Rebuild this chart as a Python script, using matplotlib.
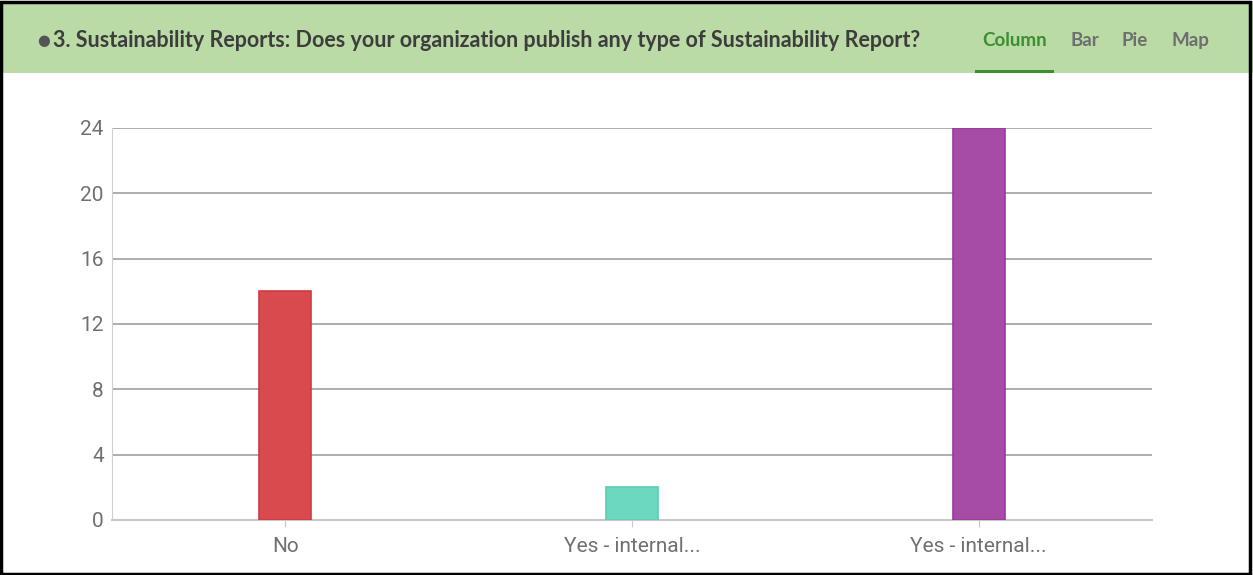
import matplotlib

matplotlib.use("Agg")
import matplotlib.pyplot as plt
from matplotlib.patches import Rectangle

categories = ["No", "Yes - internal...", "Yes - internal..."]
counts = [14, 2, 24]
bar_colors = ["#d94a4e", "#6cd8bf", "#a64ca6"]
edge_colors = ["#d23a40", "#58d0b4", "#9a3a9e"]
y_ticks = [0, 4, 8, 12, 16, 20, 24]
title = "3. Sustainability Reports: Does your organization publish any type of Sustainability Report?"
tabs = ["Column", "Bar", "Pie", "Map"]

plt.rcParams["font.family"] = ["Lato", "DejaVu Sans"]

fig = plt.figure(figsize=(12.53, 5.75), dpi=100)
fig.patch.set_facecolor("white")

# header band
fig.patches.append(Rectangle((0, 0.873), 1, 0.124, transform=fig.transFigure,
                             facecolor="#badaa6", edgecolor="none", zorder=0))
fig.text(0.030, 0.930, "\u25CF", color="#555555", fontsize=10.5, va="center",
         family=["DejaVu Sans"])
fig.text(0.042, 0.930, title, color="#3d3d3d", fontsize=15.5, fontweight="bold",
         va="center")
tab_x = [0.784, 0.854, 0.895, 0.935]
for i, (name, x) in enumerate(zip(tabs, tab_x)):
    fig.text(x, 0.930, name, fontsize=13.5, fontweight="bold", va="center",
             color="#3a8f2f" if i == 0 else "#6e6e6e")
fig.patches.append(Rectangle((0.778, 0.873), 0.063, 0.006, transform=fig.transFigure,
                             facecolor="#3a8f2f", edgecolor="none"))

# outer border
fig.patches.append(Rectangle((0.001, 0.002), 0.997, 0.995, transform=fig.transFigure,
                             facecolor="none", edgecolor="black", linewidth=2.5))

ax = fig.add_axes([0.0894, 0.0957, 0.830, 0.6817])
x = range(len(categories))
ax.bar(x, counts, width=0.15, color=bar_colors, edgecolor=edge_colors,
       linewidth=1.2, zorder=3)
ax.set_xlim(-0.5, len(categories) - 0.5)
ax.set_ylim(0, 24)
ax.set_yticks(y_ticks)
ax.set_xticks(list(x))
ax.set_xticklabels(categories)
ax.yaxis.grid(True, color="#a0a0a0", linewidth=1.2, zorder=0)
ax.set_axisbelow(True)
for side in ["top", "right"]:
    ax.spines[side].set_visible(False)
ax.spines["left"].set_color("#d0d0d0")
ax.spines["bottom"].set_color("#c8c8c8")
ax.spines["bottom"].set_linewidth(1.5)
ax.tick_params(axis="y", length=0, pad=6, labelsize=15, labelcolor="#707070")
ax.tick_params(axis="x", length=5, color="#c8c8c8", pad=7, labelsize=15,
               labelcolor="#707070")
for lbl in ax.get_xticklabels() + ax.get_yticklabels():
    lbl.set_family(["Roboto", "DejaVu Sans"])

fig.savefig("out.png", dpi=100)
